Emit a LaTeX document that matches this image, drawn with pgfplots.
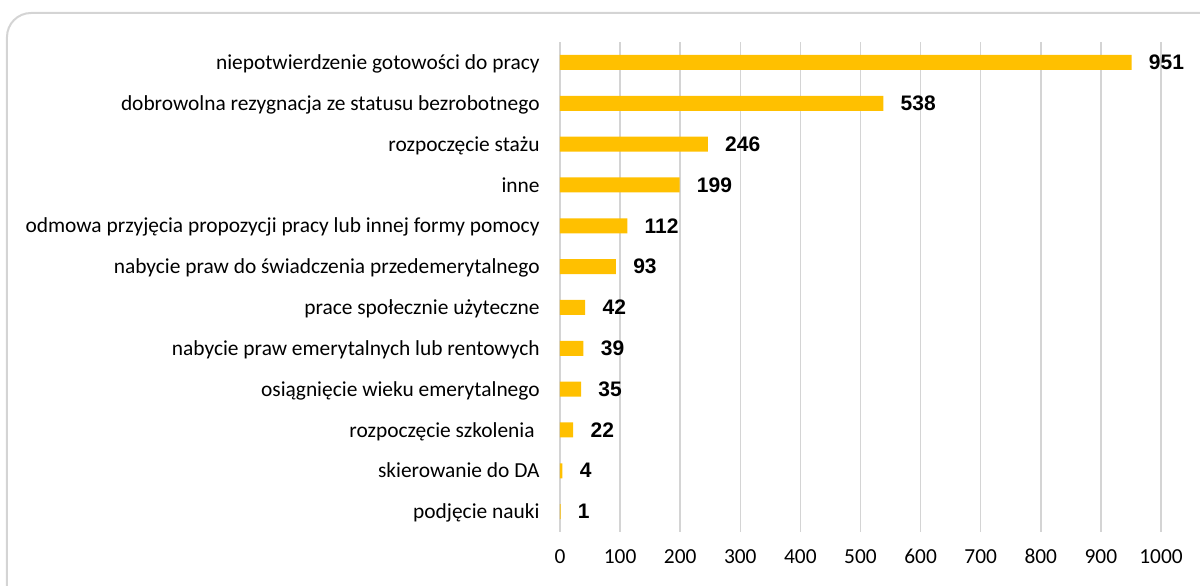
\documentclass[border=0pt]{standalone}
\usepackage{fontspec}
\setmainfont{Carlito}
\newfontfamily\numfont{Liberation Sans}
\usepackage{pgfplots}
\pgfplotsset{compat=1.18}
\definecolor{baryellow}{HTML}{FFC000}
\definecolor{gridgray}{HTML}{D4D4D4}

\pgfplotstableread{
idx value
0 951
1 538
2 246
3 199
4 112
5 93
6 42
7 39
8 35
9 22
10 4
11 1
}\reasons

\begin{document}
\begin{tikzpicture}
\useasboundingbox (-280pt,-26.5pt) rectangle (320pt,266pt);
\begin{scope}
\clip (-280pt,-26.5pt) rectangle (320pt,266pt);
\draw[gridgray, line width=1pt, rounded corners=12pt] (-276.5pt,-45pt) rectangle (335pt,259.5pt);
\end{scope}
\begin{axis}[
    at={(0,0)}, anchor=south west,
    scale only axis,
    width=300.5pt, height=245pt,
    xbar, bar width=7.5pt,
    xmin=0, xmax=1000,
    ymin=-0.5, ymax=11.5,
    y dir=reverse,
    axis line style={draw=none},
    tick style={draw=none},
    major tick length=0pt,
    xtick={0,100,...,1000},
    ytick={0,...,11},
    yticklabels={
        niepotwierdzenie gotowości do pracy,
        dobrowolna rezygnacja ze statusu bezrobotnego,
        rozpoczęcie stażu,
        inne,
        odmowa przyjęcia propozycji pracy lub innej formy pomocy,
        nabycie praw do świadczenia przedemerytalnego,
        prace społecznie użyteczne,
        nabycie praw emerytalnych lub rentowych,
        osiągnięcie wieku emerytalnego,
        {rozpoczęcie szkolenia\hspace*{2.5pt}},
        skierowanie do DA,
        podjęcie nauki},
    xmajorgrids,
    major grid style={gridgray, line width=0.75pt},
    /pgf/number format/assume math mode=true,
    /pgf/number format/1000 sep={},
    ticklabel style={font=\fontsize{10.7}{12}\selectfont},
    yticklabel style={anchor=base east, inner sep=0pt, xshift=-10pt, yshift=-3.6pt},
    xticklabel style={anchor=base, inner sep=0pt, yshift=-15.9pt},
    nodes near coords,
    every node near coord/.append style={font=\numfont\bfseries\fontsize{10.5}{12}\selectfont,
        text=black, anchor=west, inner sep=0pt, xshift=8.5pt},
]
\addplot[fill=baryellow, draw=none] table[x=value, y=idx] {\reasons};
\end{axis}
\end{tikzpicture}
\end{document}
